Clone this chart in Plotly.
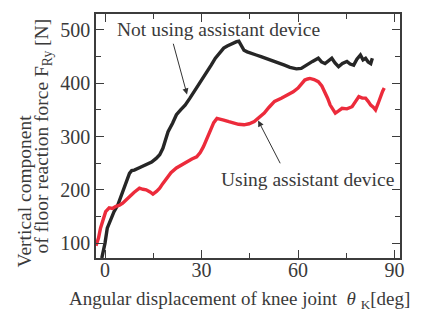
import plotly.graph_objects as go

# Not using assistant device (black)
theta_no = [-1.0, 0.0, 0.7, 1.8, 2.8, 4.0, 4.9, 6.2, 7.6, 8.3, 9.1, 10.5, 12.8, 14.5, 15.9, 17.0, 18.0,
            19.0, 19.6, 21.0, 22.2, 23.5, 24.9, 26.4, 27.5, 28.5, 30.0, 31.7, 33.0, 34.3, 35.5, 36.9, 38.0,
            39.0, 40.0, 40.9, 41.6, 42.3, 43.2, 44.2, 45.3, 47.0, 48.5, 50.0, 51.6, 53.5, 55.8, 57.5, 59.5,
            61.0, 62.0, 63.2, 64.5, 66.3, 67.3, 68.4, 69.5, 70.5, 71.5, 72.6, 73.8, 75.2, 76.2, 77.3, 78.3,
            79.4, 80.2, 81.0, 81.8, 82.6, 83.1]
force_no = [72, 100, 128, 145, 159, 172, 187, 210, 231, 236, 237, 241, 247, 252, 259, 266, 278,
            295, 309, 325, 341, 350, 359, 372, 382, 391, 405, 422, 434, 447, 456, 466, 470,
            473, 476, 478, 479, 472, 462, 459, 456, 453, 450, 447, 444, 440, 434, 430, 427,
            428, 432, 437, 441, 447, 440, 437, 443, 447, 438, 431, 437, 441, 436, 434, 445,
            453, 444, 447, 440, 437, 447]

# Using assistant device (red)
theta_with = [-2.8, -2.0, -1.4, -0.5, 0.2, 1.3, 2.3, 3.4, 4.5, 5.5, 6.5, 7.6, 9.0, 10.7, 11.8, 12.8,
              14.0, 14.9, 16.0, 17.0, 18.0, 19.1, 20.5, 22.2, 23.8, 25.4, 27.0, 28.5, 29.6, 30.6, 31.6,
              32.7, 33.8, 34.8, 35.8, 36.9, 38.5, 40.1, 41.5, 43.2, 44.8, 46.4, 48.0, 49.5, 51.0, 52.7,
              54.8, 56.9, 58.5, 60.0, 61.0, 62.1, 63.0, 63.7, 65.0, 66.3, 67.4, 68.4, 69.2, 70.0, 70.8,
              71.6, 72.6, 73.7, 75.2, 76.8, 77.8, 78.9, 80.0, 81.0, 81.8, 82.6, 83.4, 84.1, 84.9, 85.7,
              86.3, 86.8]
force_with = [95, 110, 128, 145, 159, 166, 165, 169, 171, 175, 180, 187, 195, 203, 201, 200,
              196, 192, 197, 203, 212, 222, 232, 241, 247, 253, 258, 262, 270, 281, 296,
              312, 326, 334, 333, 331, 328, 325, 323, 322, 324, 328, 336, 344, 355, 366,
              372, 378, 384, 391, 398, 406, 408, 409, 407, 403, 395, 384, 372, 359, 350,
              344, 348, 353, 352, 356, 365, 375, 372, 372, 366, 359, 355, 350, 362, 378,
              385, 391]

x_ticks = [0, 30, 60, 90]
y_ticks = [100, 200, 300, 400, 500]

SERIF = "Liberation Serif, Times New Roman, serif"
TXT = "#3a3a3a"
AX = "#3c3c3c"

W, H = 425, 311
ML, MR, MT, MB = 96, 25, 14, 53

fig = go.Figure()
fig.add_trace(go.Scatter(x=theta_no, y=force_no, mode="lines",
                         line=dict(color="#262626", width=3.4), showlegend=False))
fig.add_trace(go.Scatter(x=theta_with, y=force_with, mode="lines",
                         line=dict(color="#ec2b3b", width=3.4), showlegend=False))

axis_common = dict(showgrid=False, zeroline=False, showline=True, linecolor=AX, linewidth=1.5,
                   mirror="ticks", ticks="inside", ticklen=8, tickwidth=1.3, tickcolor=AX,
                   tickfont=dict(family=SERIF, size=20, color=TXT))

fig.update_xaxes(range=[-2.8, 91.7], tickvals=x_ticks, ticktext=[str(v) for v in x_ticks],
                 ticklabelstandoff=-7,
                 minor=dict(dtick=15, tick0=0, ticks="inside", ticklen=5, tickwidth=1.3, tickcolor=AX),
                 **axis_common)
fig.update_yaxes(range=[72, 530], tickvals=y_ticks, ticktext=[str(v) for v in y_ticks],
                 minor=dict(dtick=50, tick0=0, ticks="inside", ticklen=5, tickwidth=1.3, tickcolor=AX),
                 **axis_common)

fig.update_layout(width=W, height=H, margin=dict(l=ML, r=MR, t=MT, b=MB),
                  paper_bgcolor="white", plot_bgcolor="white")


def px2paper(px, py):
    return (px - ML) / (W - ML - MR), 1 - (py - MT) / (H - MT - MB)


ann = []
p = px2paper(218, 30)
ann.append(dict(x=p[0], y=p[1], xref="paper", yref="paper", text="Not using assistant device",
                xanchor="center", yanchor="middle",
                showarrow=False, font=dict(family=SERIF, size=19.5, color=TXT)))
p = px2paper(307, 179)
ann.append(dict(x=p[0], y=p[1], xref="paper", yref="paper", text="Using assistant device",
                xanchor="center", yanchor="middle",
                showarrow=False, font=dict(family=SERIF, size=19.5, color=TXT)))

# arrows
ann.append(dict(x=25.5, y=379, ax=21.1, ay=477, xref="x", yref="y", axref="x", ayref="y",
                text="", showarrow=True, arrowhead=2, arrowsize=1.2, arrowwidth=1, arrowcolor="#333"))
ann.append(dict(x=47.6, y=330, ax=54.7, ay=247, xref="x", yref="y", axref="x", ayref="y",
                text="", showarrow=True, arrowhead=2, arrowsize=1.2, arrowwidth=1, arrowcolor="#333"))

# axis titles
p = px2paper(239, 300)
ann.append(dict(x=p[0], y=p[1], xref="paper", yref="paper", showarrow=False,
                xanchor="center", yanchor="middle",
                text="Angular displacement of knee joint  <i>θ</i> <sub>K</sub>[deg]",
                font=dict(family=SERIF, size=19, color=TXT)))
p = px2paper(24, 270)
ann.append(dict(x=p[0], y=p[1], xref="paper", yref="paper", showarrow=False, textangle=-90,
                xanchor="center", yanchor="bottom", text="Vertical component",
                font=dict(family=SERIF, size=19.5, color=TXT)))
p = px2paper(42, 256)
ann.append(dict(x=p[0], y=p[1], xref="paper", yref="paper", showarrow=False, textangle=-90,
                xanchor="center", yanchor="bottom", text="of floor reaction force F<sub>Ry</sub> [N]",
                font=dict(family=SERIF, size=19.5, color=TXT)))

fig.update_layout(annotations=ann)
fig.write_html("out.html", config={"displayModeBar": False},
               post_script="document.body.style.margin='0';")
